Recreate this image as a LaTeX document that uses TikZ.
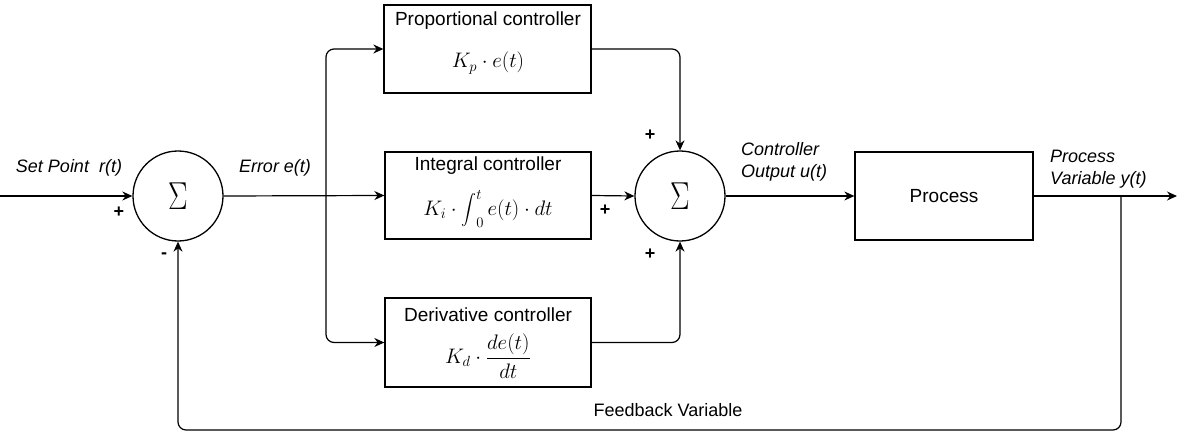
\RequirePackage{fix-cm}
\documentclass[tikz,border=0pt]{standalone}
\usepackage{graphicx}
\usepackage{exscale}
\usepackage{fontspec}
\setmainfont{Liberation Sans}
\usetikzlibrary{arrows.meta}
\newcommand{\bigint}{\mathop{\vcenter{\hbox{\scalebox{0.72}{$\displaystyle\int$}}}}\nolimits}
\begin{document}
\begin{tikzpicture}[x=1pt,y=-1pt,
  blk/.style={draw, line width=1.3pt, inner sep=0pt},
  sumnode/.style={draw, circle, minimum size=90pt, inner sep=0pt, line width=1.3pt,
    font=\fontsize{39}{39}\selectfont},
  wire/.style={line width=1.2pt, -{Stealth[length=10pt,width=9pt]}},
  lbl/.style={font=\fontsize{18}{21.5}\selectfont\itshape, align=left, inner sep=0pt},
  ttl/.style={font=\fontsize{19}{22}\selectfont, inner sep=0pt},
  fbl/.style={font=\fontsize{18}{21}\selectfont, inner sep=0pt},
  mth/.style={font=\fontsize{21}{25}\selectfont, inner sep=0pt},
  sgn/.style={font=\fontsize{18}{18}\selectfont\bfseries, inner sep=0pt}
]
\useasboundingbox (0,0) rectangle (1177,433);

% summing junctions
\node[sumnode] (sum1) at (178,196) {\scalebox{0.75}[1]{$\Sigma$}};
\node[sumnode] (sum2) at (680,196) {\scalebox{0.75}[1]{$\Sigma$}};

% blocks
\node[blk, minimum width=207pt, minimum height=88pt] (prop) at (487.5,49) {};
\node[blk, minimum width=206pt, minimum height=87pt] (int) at (488,195.5) {};
\node[blk, minimum width=206pt, minimum height=89pt] (der) at (488,342.5) {};
\node[blk, minimum width=178pt, minimum height=88pt] (proc) at (944,196) {};

% block texts
\node[ttl] (propttl) at (488,21) {Proportional controller};
\node[mth] (propmth) at (488,63) {$K_p\cdot e(t)$};
\node[ttl] (intttl) at (488,166) {Integral controller};
\node[mth] (intmth) at (488,209) {$K_i\cdot\bigint_0^t e(t)\cdot dt$};
\node[ttl] (derttl) at (488,315) {Derivative controller};
\node[mth] (dermth) at (488,356) {$K_d\cdot\displaystyle\frac{de(t)}{dt}$};
\node[ttl] (procttl) at (944,196) {Process};

% coordinates
\coordinate (in) at (0,196);
\coordinate (sp) at (326,196);
\coordinate (out) at (1177,196);
\coordinate (fb) at (1121,196);
\coordinate (fbc) at (178,430);

% connectors
\draw[wire] (in) -- (sum1.west);
\draw[wire] (sum1.east) -- (int.west);
\draw[wire, rounded corners=8pt] (sp) |- (prop.west);
\draw[wire, rounded corners=8pt] (sp) |- (der.west);
\draw[wire, rounded corners=8pt] (prop.east) -| (sum2.north);
\draw[wire] (int.east) -- (sum2.west);
\draw[wire, rounded corners=8pt] (der.east) -| (sum2.south);
\draw[wire] (sum2.east) -- (proc.west);
\draw[wire] (proc.east) -- (out);
\draw[wire, rounded corners=8pt] (fb) |- (fbc) -- (sum1.south);

% labels
\node[lbl] (sptxt) at (69,168) {Set Point\ \ r(t)};
\node[lbl] (errtxt) at (275,168) {Error e(t)};
\node[lbl, anchor=west] (cotxt) at (741,162) {Controller\\Output u(t)};
\node[lbl, anchor=west] (pvtxt) at (1050,169) {Process\\Variable y(t)};
\node[fbl] (fbtxt) at (668,410) {Feedback Variable};

% signs
\node[sgn] (s1) at (119,212) {+};
\node[sgn] (s2) at (164,256) {-};
\node[sgn] (s3) at (650,135) {+};
\node[sgn] (s4) at (605,210) {+};
\node[sgn] (s5) at (650,254) {+};
\end{tikzpicture}
\end{document}
